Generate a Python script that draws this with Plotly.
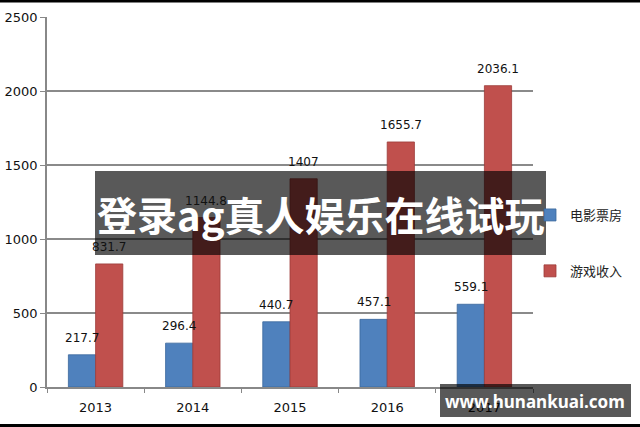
import plotly.graph_objects as go

years = ["2013", "2014", "2015", "2016", "2017"]
box_office = [217.7, 296.4, 440.7, 457.1, 559.1]
game_revenue = [831.7, 1144.8, 1407, 1655.7, 2036.1]
series_names = ["电影票房", "游戏收入"]
y_ticks = [0, 500, 1000, 1500, 2000, 2500]

def fmt(v):
    return ("%g" % v)

fig = go.Figure()
fig.add_trace(go.Bar(
    x=years, y=box_office, name=series_names[0], legendgroup="a",
    marker=dict(color="#4F81BD", line=dict(color="#3A679C", width=0.8)),
))
fig.add_trace(go.Bar(
    x=years, y=game_revenue, name=series_names[1], legendgroup="b",
    marker=dict(color="#C0504D", line=dict(color="#9C3B38", width=0.8)),
))

L, R, T, B = 47, 107, 17, 40
W, H = 640, 427
pw, ph = W - L - R, H - T - B
bargap = 0.44
half_bar = pw / len(years) * (1 - bargap) / 4

def px(x):
    return (x - L) / pw

def py(y):
    return (H - B - y) / ph

shapes = [
    dict(type="rect", xref="paper", yref="paper", x0=px(0), x1=px(640), y0=py(0), y1=py(2.5),
         fillcolor="#000000", line=dict(width=0), layer="above"),
    dict(type="rect", xref="paper", yref="paper", x0=px(0), x1=px(640), y0=py(424), y1=py(427),
         fillcolor="#000000", line=dict(width=0), layer="above"),
    dict(type="rect", xref="paper", yref="paper", x0=px(95), x1=px(546), y0=py(255), y1=py(171),
         fillcolor="rgba(0,0,0,0.65)", line=dict(width=0), layer="above"),
    dict(type="rect", xref="paper", yref="paper", x0=px(440), x1=px(631), y0=py(417), y1=py(384),
         fillcolor="rgba(0,0,0,0.65)", line=dict(width=0), layer="above"),
]

annotations = []
for series, shift in ((box_office, -half_bar), (game_revenue, half_bar)):
    for i, v in enumerate(series):
        annotations.append(dict(
            x=i, y=v, xref="x", yref="y", text=fmt(v), showarrow=False,
            xanchor="center", yanchor="bottom", xshift=shift, yshift=8,
            font=dict(size=12, color="#111111", family="DejaVu Sans"),
        ))

annotations += [
    dict(text="<b>登录ag真人娱乐在线试玩</b>", xref="paper", yref="paper", x=px(321), y=py(214),
         xanchor="center", yanchor="middle", showarrow=False,
         font=dict(size=40, color="#FFFFFF", family="Noto Sans CJK SC")),
    dict(text="<b>www.hunankuai.com</b>", xref="paper", yref="paper", x=px(535), y=py(401),
         xanchor="center", yanchor="middle", showarrow=False,
         font=dict(size=17, color="#FFFFFF", family="Noto Sans, DejaVu Sans")),
]

fig.update_layout(
    width=W, height=H,
    margin=dict(l=L, r=R, t=T, b=B, pad=0, autoexpand=False),
    paper_bgcolor="#FFFFFF", plot_bgcolor="#FFFFFF",
    barmode="group", bargap=bargap, bargroupgap=0,
    font=dict(family="DejaVu Sans, Noto Sans CJK SC", color="#111111", size=13),
    showlegend=True,
    legend=dict(x=px(530), y=py(200), xanchor="left", yanchor="top",
                font=dict(size=13, color="#222222", family="Noto Sans CJK SC"),
                tracegroupgap=36, traceorder="grouped",
                bgcolor="rgba(0,0,0,0)"),
    shapes=shapes, annotations=annotations,
)
fig.update_xaxes(
    type="category", categoryorder="array", categoryarray=years,
    range=[-0.5, len(years) - 0.5],
    showline=True, linecolor="#888888", linewidth=1.5,
    ticks="outside", ticklen=4, tickcolor="#888888", tickson="boundaries",
    tickfont=dict(size=13, color="#111111"), ticklabelstandoff=8,
    showgrid=False, automargin=False,
)
fig.update_yaxes(
    range=[0, 2500], tickvals=y_ticks, showline=True, linecolor="#888888", linewidth=1.5,
    ticks="outside", ticklen=5, tickcolor="#888888",
    showgrid=True, gridcolor="#8A8A8A", gridwidth=1.5, zeroline=False,
    tickfont=dict(size=13, color="#111111"), automargin=False,
)

fig.write_html("out.html", config={"displayModeBar": False},
               post_script="document.body.style.margin='0';document.body.style.padding='0';")
